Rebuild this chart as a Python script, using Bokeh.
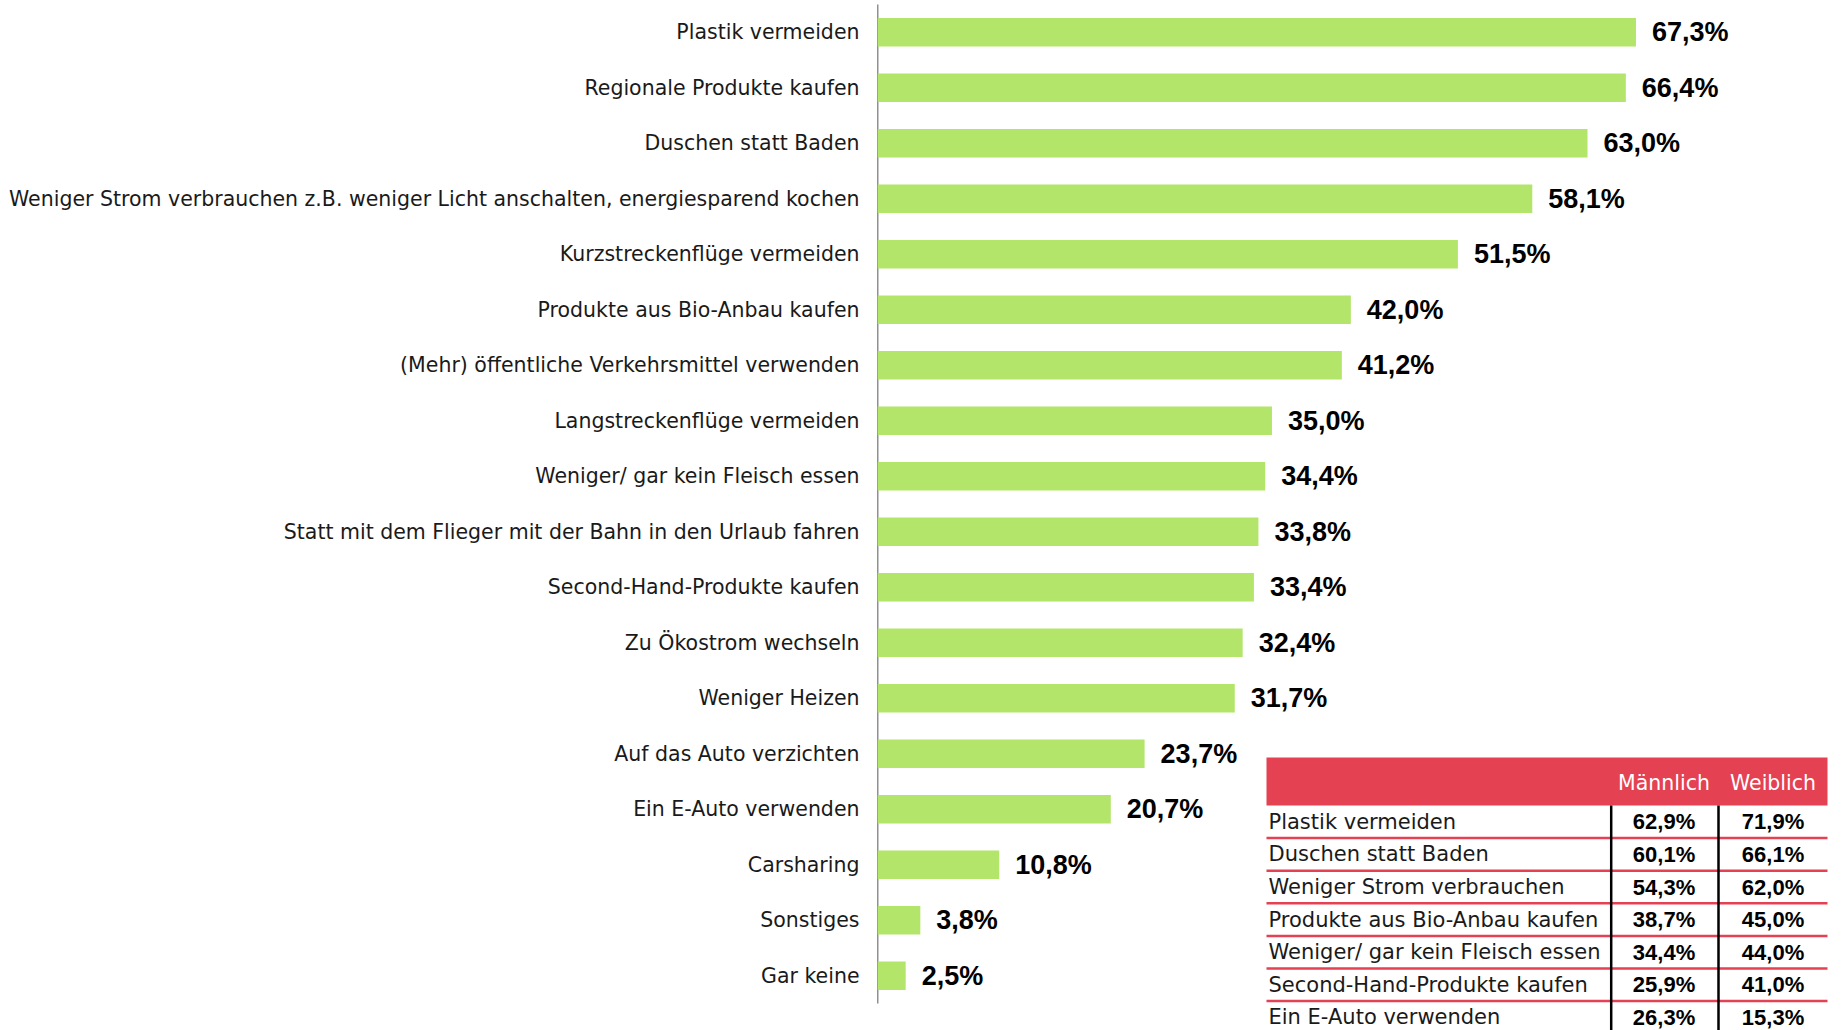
from bokeh.plotting import figure
from bokeh.models import Range1d, FixedTicker, ColumnDataSource
from bokeh.core.properties import value
from bokeh.embed import file_html
from bokeh.resources import INLINE

# ---------------- data ----------------
categories = [
    "Plastik vermeiden",
    "Regionale Produkte kaufen",
    "Duschen statt Baden",
    "Weniger Strom verbrauchen z.B. weniger Licht anschalten, energiesparend kochen",
    "Kurzstreckenflüge vermeiden",
    "Produkte aus Bio-Anbau kaufen",
    "(Mehr) öffentliche Verkehrsmittel verwenden",
    "Langstreckenflüge vermeiden",
    "Weniger/ gar kein Fleisch essen",
    "Statt mit dem Flieger mit der Bahn in den Urlaub fahren",
    "Second-Hand-Produkte kaufen",
    "Zu Ökostrom wechseln",
    "Weniger Heizen",
    "Auf das Auto verzichten",
    "Ein E-Auto verwenden",
    "Carsharing",
    "Sonstiges",
    "Gar keine",
]
shares = [67.3, 66.4, 63.0, 58.1, 51.5, 42.0, 41.2, 35.0, 34.4, 33.8,
          33.4, 32.4, 31.7, 23.7, 20.7, 10.8, 3.8, 2.5]

table_header = ["Männlich", "Weiblich"]
table_rows = [
    "Plastik vermeiden",
    "Duschen statt Baden",
    "Weniger Strom verbrauchen",
    "Produkte aus Bio-Anbau kaufen",
    "Weniger/ gar kein Fleisch essen",
    "Second-Hand-Produkte kaufen",
    "Ein E-Auto verwenden",
]
male = [62.9, 60.1, 54.3, 38.7, 34.4, 25.9, 26.3]
female = [71.9, 66.1, 62.0, 45.0, 44.0, 41.0, 15.3]


def fmt(v):
    return f"{v:.1f}%".replace(".", ",")


# ---------------- layout constants ----------------
W, H = 1835, 1030
PAGE = 0                      # figure's page offset as observed
FRAME_LEFT = 877
BORDER_LEFT = FRAME_LEFT - PAGE
PX_PER_PCT = 11.27
ROW_STEP = 55.5
FIRST_CENTER = 31.7          # page px of first bar centre

GREEN = "#b2e56a"
RED = "#e44153"
TXT = "#1a1a1a"

n = len(categories)
idx = list(range(n))

x_end = (PAGE + W - FRAME_LEFT) / PX_PER_PCT
y_top = (PAGE - FIRST_CENTER) / ROW_STEP
y_bot = (PAGE + H - FIRST_CENTER) / ROW_STEP


def X(sx):
    return (sx - FRAME_LEFT) / PX_PER_PCT


def Y(sy):
    return (sy - FIRST_CENTER) / ROW_STEP


p = figure(width=W, height=H, output_backend="svg", toolbar_location=None,
           x_range=Range1d(0, x_end), y_range=Range1d(y_bot, y_top),
           min_border_left=BORDER_LEFT, min_border_right=0,
           min_border_top=0, min_border_bottom=0)
p.outline_line_color = None
p.xgrid.visible = False
p.ygrid.visible = False
p.xaxis.visible = False

ax = p.yaxis[0]
ax.ticker = FixedTicker(ticks=idx)
ax.major_label_overrides = {i: c for i, c in zip(idx, categories)}
ax.axis_line_color = None
ax.major_tick_line_color = None
ax.minor_tick_line_color = None
ax.major_tick_in = 0
ax.major_tick_out = 0
ax.major_label_standoff = 18
ax.major_label_text_font = "DejaVu Sans"
ax.major_label_text_font_size = "20.5px"
ax.major_label_text_color = TXT

# vertical baseline
p.segment(x0=[0], y0=[-0.5], x1=[0], y1=[n - 0.5], line_color="#222222", line_width=1.5)

src = ColumnDataSource(dict(y=idx, v=shares, lab=[fmt(v) for v in shares]))
p.hbar(y="y", left=0, right="v", height=0.515, source=src,
       fill_color=GREEN, line_color=None)
p.text(x="v", y="y", text="lab", source=src, x_offset=16,
       text_align="left", text_baseline="middle",
       text_font=value("Liberation Sans"), text_font_style="bold",
       text_font_size="27px", text_color="#000000")

# ---------------- table ----------------
T_LEFT, T_RIGHT = 1266, 1827
H_TOP, H_BOT = 757, 805
ROW_H = 32.6
COL1, COL2 = 1663.5, 1772.5
VLINES = [1610.7, 1718]

p.quad(left=[X(T_LEFT)], right=[X(T_RIGHT)], top=[Y(H_TOP)], bottom=[Y(H_BOT)],
       fill_color=RED, line_color=None)
p.text(x=[X(COL1), X(COL2)], y=[Y((H_TOP + H_BOT) / 2 + 1)] * 2, text=table_header,
       text_align="center", text_baseline="middle",
       text_font=value("DejaVu Sans"), text_font_size="20.5px", text_color="#ffffff")

k = list(range(len(table_rows)))
row_y = [Y(H_BOT + ROW_H * (i + 0.5)) for i in k]
line_y = [Y(H_BOT + ROW_H * (i + 1)) for i in k[:-1]]

p.segment(x0=[X(T_LEFT)] * len(line_y), x1=[X(T_RIGHT)] * len(line_y),
          y0=line_y, y1=line_y, line_color=RED, line_width=2.5)
p.segment(x0=[X(v) for v in VLINES], x1=[X(v) for v in VLINES],
          y0=[Y(H_BOT)] * 2, y1=[Y(PAGE + H + 20)] * 2,
          line_color="#000000", line_width=2.5)

p.text(x=[X(T_LEFT + 2)] * len(k), y=row_y, text=table_rows,
       text_align="left", text_baseline="middle",
       text_font=value("DejaVu Sans"), text_font_size="21px", text_color=TXT)
p.text(x=[X(COL1)] * len(k), y=row_y, text=[fmt(v) for v in male],
       text_align="center", text_baseline="middle",
       text_font=value("Liberation Sans"), text_font_style="bold",
       text_font_size="22px", text_color="#000000")
p.text(x=[X(COL2)] * len(k), y=row_y, text=[fmt(v) for v in female],
       text_align="center", text_baseline="middle",
       text_font=value("Liberation Sans"), text_font_style="bold",
       text_font_size="22px", text_color="#000000")

open("out.html", "w").write(file_html(p, INLINE))
